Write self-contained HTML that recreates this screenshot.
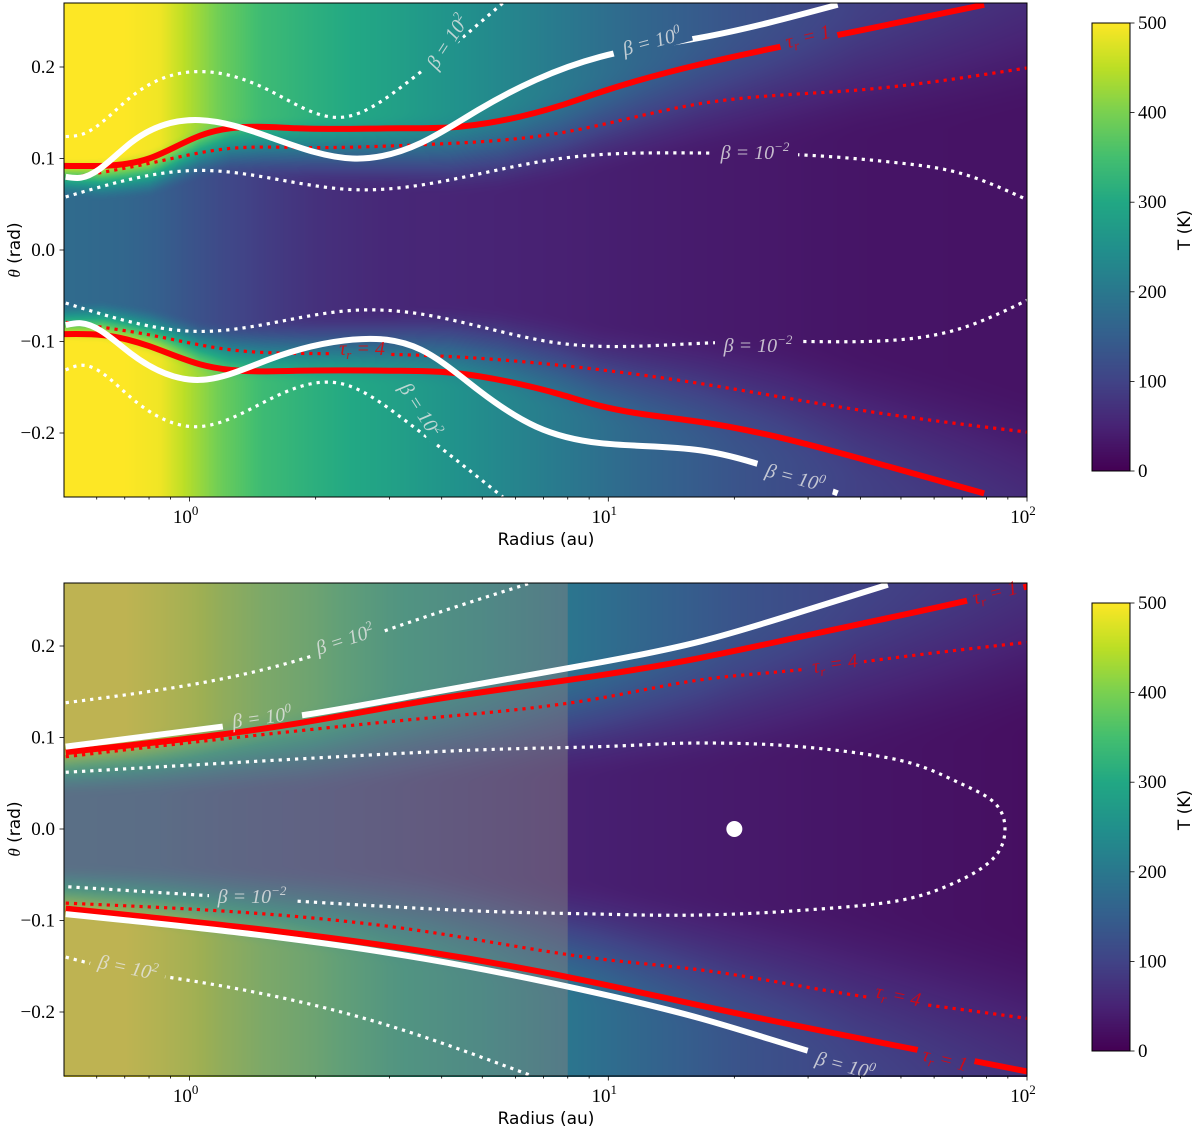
<!DOCTYPE html>
<html><head><meta charset="utf-8">
<style>
html,body{margin:0;padding:0;background:#fff;}
#wrap{position:relative;width:1200px;height:1135px;overflow:hidden;}
canvas{position:absolute;}
svg{position:absolute;left:0;top:0;}
.tk{font-family:"Liberation Serif",serif;font-size:19px;fill:#000;}
.lab{font-family:"DejaVu Sans","Liberation Sans",sans-serif;font-size:17px;fill:#000;}
.cl{font-family:"Liberation Serif",serif;font-style:italic;font-size:20px;}
</style></head>
<body>
<div id="wrap">
<canvas id="hmTop" width="963" height="494" style="left:64px;top:3px"></canvas>
<canvas id="hmBot" width="963" height="494" style="left:64px;top:583px"></canvas>
<canvas id="cbTop" width="38" height="448" style="left:1092px;top:23px"></canvas>
<canvas id="cbBot" width="38" height="448" style="left:1092px;top:603px"></canvas>
<svg id="svg" width="1200" height="1135"></svg>
</div>
<script>
// ---------- data ----------
const rGridT=[0.5,0.7,0.85,1.0,1.2,1.5,2,3,5,8,12,20,40,100];
const tSurfTop=[500,500,490,440,385,340,315,285,240,200,165,130,95,70];
const tMidTop=[175,165,150,130,110,90,70,55,50,45,40,35,28,25];
const tSurfBot=[500,500,480,460,430,400,370,310,255,195,165,130,100,75];
const tMidBot=[150,145,140,130,120,110,100,85,65,45,40,35,28,20];

// top panel contours
const tauOneUpTopR=[0.5,0.62,0.8,1.06,1.25,1.8,3.2,4.2,5.5,7.7,9.5,16.6,25.7,40,79];
const tauOneUpTopT=[0.092,0.092,0.100,0.125,0.133,0.133,0.133,0.134,0.141,0.158,0.172,0.203,0.222,0.240,0.268];
const tauOneLoTopT=[-0.092,-0.093,-0.105,-0.125,-0.131,-0.132,-0.132,-0.134,-0.142,-0.158,-0.170,-0.188,-0.205,-0.228,-0.266];
const betaOneTopR=[0.506,0.55,0.723,1.056,1.54,2.45,3.57,4.89,6.72,9.55,16.6,35.3];
const betaOneUpTopT=[0.080,0.079,0.117,0.142,0.124,0.100,0.117,0.153,0.186,0.211,0.232,0.268];
const betaOneLoTopT=[-0.082,-0.080,-0.113,-0.142,-0.120,-0.098,-0.109,-0.153,-0.193,-0.211,-0.219,-0.266];
const tauFourTopR=[0.506,0.807,1.25,1.84,3.55,7.68,16.6,39.9,100];
const tauFourUpTopT=[0.078,0.095,0.111,0.112,0.115,0.128,0.160,0.175,0.199];
const tauFourLoTopT=[-0.079,-0.093,-0.109,-0.113,-0.115,-0.126,-0.146,-0.175,-0.199];
const betaMinTopR=[0.506,1.062,2.45,3.57,7.68,16.6,28.7,49.8,69.2,100];
const betaMinUpTopT=[0.058,0.087,0.066,0.071,0.100,0.106,0.104,0.095,0.084,0.055];
const betaMinLoTopT=[-0.058,-0.089,-0.066,-0.070,-0.102,-0.102,-0.100,-0.098,-0.086,-0.055];
const betaHiTopR=[0.506,0.55,0.723,1.056,1.54,2.3,3.2,5.6];
const betaHiUpTopT=[0.124,0.126,0.167,0.195,0.175,0.145,0.178,0.270];
const betaHiLoTopT=[-0.131,-0.126,-0.161,-0.193,-0.164,-0.146,-0.183,-0.270];

// bottom panel contours
const betaOneUpBotR=[0.506,1.30,1.90,3.66,9.55,16.6,28.7,46.5];
const betaOneUpBotT=[0.090,0.114,0.125,0.148,0.182,0.205,0.237,0.267];
const tauOneUpBotR=[0.506,1.90,3.66,9.55,16.6,28.7,71,100];
const tauOneUpBotT=[0.084,0.117,0.140,0.168,0.187,0.210,0.249,0.265];
const tauFourUpBotR=[0.506,3.66,9.55,16.6,28.7,41,100];
const tauFourUpBotT=[0.079,0.121,0.143,0.163,0.174,0.183,0.204];
const betaMinBotR=[0.506,3.66,9.55,16.6,28.7,49.8,69.2,83.9,88.6,83.9,69.2,49.8,28.7,16.6,9.55,3.66,0.506];
const betaMinBotT=[0.062,0.084,0.090,0.094,0.090,0.075,0.050,0.028,0.0,-0.030,-0.056,-0.078,-0.089,-0.094,-0.093,-0.087,-0.063];
const tauFourLoBotR=[0.506,3.66,9.55,16.6,42,57,100];
const tauFourLoBotT=[-0.081,-0.112,-0.142,-0.154,-0.184,-0.192,-0.207];
const tauOneLoBotR=[0.506,3.66,9.55,16.6,55.6,100];
const tauOneLoBotT=[-0.087,-0.134,-0.169,-0.193,-0.242,-0.265];
const betaOneLoBotR=[0.506,3.66,9.55,16.6,30.8,44.6];
const betaOneLoBotT=[-0.093,-0.142,-0.180,-0.207,-0.244,-0.265];
const betaHiUpBotR=[0.506,1.99,2.90,6.43];
const betaHiUpBotT=[0.138,0.190,0.216,0.268];
const betaHiLoBotR=[0.506,0.62,0.89,2.90,6.5];
const betaHiLoBotT=[-0.140,-0.150,-0.162,-0.213,-0.269];
const planetR=[20], planetT=[0.0];
const overlayMaxR=8;

const xTickVals=[1,10,100];
const xTickLabels=["0","1","2"];
const yTickVals=[-0.2,-0.1,0.0,0.1,0.2];
const yTickLabels=["\u22120.2","\u22120.1","0.0","0.1","0.2"];
const cbTickVals=[0,100,200,300,400,500];

// ---------- scales ----------
const X0=64,X1=1027,LMIN=-0.3,LMAX=2;
function xpx(r){return X0+(Math.log10(r)-LMIN)/(LMAX-LMIN)*(X1-X0);}
const panels={top:{y0:3,y1:497,yc:250},bot:{y0:583,y1:1076,yc:829}};
const SC=915;
function ypx(p,t){return panels[p].yc-t*SC;}
const NS="http://www.w3.org/2000/svg";
const svg=document.getElementById('svg');
function mk(tag,attrs,parent){const e=document.createElementNS(NS,tag);for(const k in attrs)e.setAttribute(k,attrs[k]);(parent||svg).appendChild(e);return e;}

const VIR=[[68,1,84],[72,36,117],[65,68,135],[53,95,141],[42,120,142],[33,145,140],[34,168,132],[68,191,112],[122,209,81],[189,223,38],[253,231,37]];
function vir(v){v=Math.max(0,Math.min(1,v));const f=v*10,i=Math.min(9,Math.floor(f)),u=f-i;const a=VIR[i],b=VIR[i+1];return [a[0]+(b[0]-a[0])*u,a[1]+(b[1]-a[1])*u,a[2]+(b[2]-a[2])*u];}
function interpLog(rs,vs,r){const l=Math.log10(r);if(r<=rs[0])return vs[0];for(let i=1;i<rs.length;i++){if(r<=rs[i]){const a=Math.log10(rs[i-1]),b=Math.log10(rs[i]);const u=(l-a)/(b-a);return vs[i-1]+(vs[i]-vs[i-1])*u;}}const n=rs.length;const a=Math.log10(rs[n-2]),b=Math.log10(rs[n-1]);return vs[n-1]+(vs[n-1]-vs[n-2])*(l-b)/(b-a);}
function smooth(e0,e1,x){let t=(x-e0)/(e1-e0);t=Math.max(0,Math.min(1,t));return t*t*(3-2*t);}

function drawHeat(id,p,ts,tm,upR,upT,loR,loT,wBase,wSlope){
  const c=document.getElementById(id),ctx=c.getContext('2d');
  const W=c.width,H=c.height,img=ctx.createImageData(W,H);
  const y0=panels[p].y0;
  for(let i=0;i<W;i++){
    const r=Math.pow(10,LMIN+(i+0.5)/(X1-X0)*(LMAX-LMIN));
    const Ts=interpLog(rGridT,ts,r),Tm=interpLog(rGridT,tm,r);
    const tu=interpLog(upR,upT,r),tl=-interpLog(loR,loT,r);
    const w=wBase+wSlope*Math.max(0,Math.log10(r/0.5));
    for(let j=0;j<H;j++){
      const th=(panels[p].yc-(y0+j+0.5))/SC;
      const t1=th>=0?tu:tl;const a=Math.abs(th);
      const s=smooth(t1-w,t1+0.25*w,a);
      const T=Tm+(Ts-Tm)*s;
      const col=vir(T/500);const k=(j*W+i)*4;
      img.data[k]=col[0];img.data[k+1]=col[1];img.data[k+2]=col[2];img.data[k+3]=255;
    }
  }
  ctx.putImageData(img,0,0);
}
drawHeat('hmTop','top',tSurfTop,tMidTop,tauOneUpTopR,tauOneUpTopT,tauOneUpTopR,tauOneLoTopT,0.035,0.045);
drawHeat('hmBot','bot',tSurfBot,tMidBot,tauOneUpBotR,tauOneUpBotT,tauOneLoBotR,tauOneLoBotT,0.05,0.05);

function drawCB(id){const c=document.getElementById(id),ctx=c.getContext('2d');for(let j=0;j<c.height;j++){const col=vir(1-(j+0.5)/c.height);ctx.fillStyle=`rgb(${col[0]|0},${col[1]|0},${col[2]|0})`;ctx.fillRect(0,j,c.width,1);}}
drawCB('cbTop');drawCB('cbBot');

const defs=mk('defs',{});
for(const p of ['top','bot']){const cp=mk('clipPath',{id:'clip-'+p},defs);mk('rect',{x:X0,y:panels[p].y0,width:X1-X0,height:panels[p].y1-panels[p].y0},cp);}
const masks={};
function getMask(key){if(!masks[key]){const m=mk('mask',{id:'m-'+key,maskUnits:'userSpaceOnUse',x:0,y:0,width:1200,height:1135},defs);mk('rect',{x:0,y:0,width:1200,height:1135,fill:'#fff'},m);masks[key]=m;}return masks[key];}

const ov=mk('rect',{x:X0,y:panels.bot.y0,width:xpx(overlayMaxR)-X0,height:panels.bot.y1-panels.bot.y0,fill:'rgba(128,128,128,0.5)'});



function catmull(pts){let d=`M${pts[0][0]},${pts[0][1]}`;for(let i=0;i<pts.length-1;i++){const p0=pts[Math.max(0,i-1)],p1=pts[i],p2=pts[i+1],p3=pts[Math.min(pts.length-1,i+2)];const c1=[p1[0]+(p2[0]-p0[0])/6,p1[1]+(p2[1]-p0[1])/6],c2=[p2[0]-(p3[0]-p1[0])/6,p2[1]-(p3[1]-p1[1])/6];d+=`C${c1[0]},${c1[1]} ${c2[0]},${c2[1]} ${p2[0]},${p2[1]}`;}return d;}
function spline(pts){
  const n=pts.length;if(n<3)return catmull(pts);
  const x=pts.map(p=>p[0]),y=pts.map(p=>p[1]);const h=[];for(let i=0;i<n-1;i++)h.push(x[i+1]-x[i]);
  const a=new Array(n).fill(0),b=new Array(n).fill(1),c=new Array(n).fill(0),d=new Array(n).fill(0);
  for(let i=1;i<n-1;i++){a[i]=h[i-1];b[i]=2*(h[i-1]+h[i]);c[i]=h[i];d[i]=6*((y[i+1]-y[i])/h[i]-(y[i]-y[i-1])/h[i-1]);}
  for(let i=1;i<n;i++){const m=a[i]/b[i-1];b[i]-=m*c[i-1];d[i]-=m*d[i-1];}
  const M=new Array(n).fill(0);M[n-1]=d[n-1]/b[n-1];for(let i=n-2;i>=0;i--)M[i]=(d[i]-c[i]*M[i+1])/b[i];
  const m=[];for(let i=0;i<n-1;i++)m.push((y[i+1]-y[i])/h[i]-h[i]*(2*M[i]+M[i+1])/6);
  m.push((y[n-1]-y[n-2])/h[n-2]+h[n-2]*(M[n-2]+2*M[n-1])/6);
  let s=`M${x[0]},${y[0]}`;
  for(let i=0;i<n-1;i++){const q=h[i]/3;s+=`C${x[i]+q},${y[i]+m[i]*q} ${x[i+1]-q},${y[i+1]-m[i+1]*q} ${x[i+1]},${y[i+1]}`;}
  return s;
}
function curve(p,rs,ts,color,style,name,loop){
  const pts=rs.map((r,i)=>[xpx(r),ypx(p,ts[i])]);
  getMask(name);
  const a={d:loop?catmull(pts):spline(pts),fill:'none',stroke:color,'clip-path':`url(#clip-${p})`,mask:`url(#m-${name})`};
  if(style==='thick'){a['stroke-width']=6;}else{a['stroke-width']=3.2;a['stroke-dasharray']='3.2 5';}
  const e=mk('path',a);
  
  
}
const W='#ffffff',R='#ff0000';
curve('top',betaHiTopR,betaHiUpTopT,W,'dot','beta-1e2-upper-top');
curve('top',betaHiTopR,betaHiLoTopT,W,'dot','beta-1e2-lower-top');
curve('top',betaMinTopR,betaMinUpTopT,W,'dot','beta-1e-2-upper-top');
curve('top',betaMinTopR,betaMinLoTopT,W,'dot','beta-1e-2-lower-top');
curve('top',tauFourTopR,tauFourUpTopT,R,'dot','tau-4-upper-top');
curve('top',tauFourTopR,tauFourLoTopT,R,'dot','tau-4-lower-top');
curve('top',tauOneUpTopR,tauOneUpTopT,R,'thick','tau-1-upper-top');
curve('top',tauOneUpTopR,tauOneLoTopT,R,'thick','tau-1-lower-top');
curve('top',betaOneTopR,betaOneUpTopT,W,'thick','beta-1-upper-top');
curve('top',betaOneTopR,betaOneLoTopT,W,'thick','beta-1-lower-top');
curve('bot',betaHiUpBotR,betaHiUpBotT,W,'dot','beta-1e2-upper-bottom');
curve('bot',betaHiLoBotR,betaHiLoBotT,W,'dot','beta-1e2-lower-bottom');
curve('bot',betaMinBotR,betaMinBotT,W,'dot','beta-1e-2-loop-bottom',true);
curve('bot',tauFourUpBotR,tauFourUpBotT,R,'dot','tau-4-upper-bottom');
curve('bot',tauFourLoBotR,tauFourLoBotT,R,'dot','tau-4-lower-bottom');
curve('bot',tauOneUpBotR,tauOneUpBotT,R,'thick','tau-1-upper-bottom');
curve('bot',tauOneLoBotR,tauOneLoBotT,R,'thick','tau-1-lower-bottom');
curve('bot',betaOneUpBotR,betaOneUpBotT,W,'thick','beta-1-upper-bottom');
curve('bot',betaOneLoBotR,betaOneLoBotT,W,'thick','beta-1-lower-bottom');
const pl=mk('circle',{cx:xpx(planetR[0]),cy:ypx('bot',planetT[0]),r:8,fill:'#fff'});



function clabel(x,y,rot,color,base,exp,name,sub,gw,curveName){
  mk('rect',{x:x-gw/2,y:y-9,width:gw,height:18,fill:'#000',transform:`rotate(${rot} ${x} ${y})`},getMask(curveName));
  const t=mk('text',{x:x,y:y+6,transform:`rotate(${rot} ${x} ${y})`,'text-anchor':'middle',class:'cl',fill:color,'fill-opacity':0.8});
  
  
  t.textContent=base;
  if(sub){const s=mk('tspan',{'font-size':13,dy:4},t);s.textContent=sub;const s2=mk('tspan',{dy:-4},t);s2.textContent=' = '+exp;}
  else{const s=mk('tspan',{'font-size':13,dy:-8},t);s.textContent=exp;}
}
const LB='#e6e6e6';
clabel(448,42,-57,LB,'\u03b2 = 10','2','label-beta-1e2-top-upper',null,76,'beta-1e2-upper-top');
clabel(420,410,57,LB,'\u03b2 = 10','2','label-beta-1e2-top-lower',null,76,'beta-1e2-lower-top');
clabel(652,42,-15,LB,'\u03b2 = 10','0','label-beta-1-top-upper',null,80,'beta-1-upper-top');
clabel(795,478,15,LB,'\u03b2 = 10','0','label-beta-1-top-lower',null,80,'beta-1-lower-top');
clabel(755,153,0,LB,'\u03b2 = 10','\u22122','label-beta-1e-2-top-upper',null,86,'beta-1e-2-upper-top');
clabel(758,346,0,LB,'\u03b2 = 10','\u22122','label-beta-1e-2-top-lower',null,86,'beta-1e-2-lower-top');
clabel(808,37,-14,'#e00','\u03c4','1','label-tau-1-top','r',58,'tau-1-upper-top');
clabel(362,349,0,'#e00','\u03c4','4','label-tau-4-top','r',58,'tau-4-lower-top');
clabel(345,640,-18,LB,'\u03b2 = 10','2','label-beta-1e2-bottom-upper',null,76,'beta-1e2-upper-bottom');
clabel(128,968,12,LB,'\u03b2 = 10','2','label-beta-1e2-bottom-lower',null,76,'beta-1e2-lower-bottom');
clabel(262,718,-8,LB,'\u03b2 = 10','0','label-beta-1-bottom-upper',null,80,'beta-1-upper-bottom');
clabel(845,1066,15,LB,'\u03b2 = 10','0','label-beta-1-bottom-lower',null,80,'beta-1-lower-bottom');
clabel(252,897,0,LB,'\u03b2 = 10','\u22122','label-beta-1e-2-bottom',null,86,'beta-1e-2-loop-bottom');
clabel(835,664,-8,'#e00','\u03c4','4','label-tau-4-bottom-upper','r',58,'tau-4-upper-bottom');
clabel(898,996,12,'#e00','\u03c4','4','label-tau-4-bottom-lower','r',58,'tau-4-lower-bottom');
clabel(995,593,-14,'#e00','\u03c4','1','label-tau-1-bottom-upper','r',58,'tau-1-upper-bottom');
clabel(945,1060,14,'#e00','\u03c4','1','label-tau-1-bottom-lower','r',58,'tau-1-lower-bottom');

for(const p of ['top','bot']){
  const P=panels[p];
  const fr=mk('rect',{x:X0,y:P.y0,width:X1-X0,height:P.y1-P.y0,fill:'none',stroke:'#000','stroke-width':1});
  
  
  for(let d=-1;d<=1;d++)for(let k=2;k<=9;k++){const r=k*Math.pow(10,d);const x=xpx(r);if(x<X0||x>X1)continue;mk('line',{x1:x,x2:x,y1:P.y1,y2:P.y1+2.5,stroke:'#000','stroke-width':0.8});}
  xTickVals.forEach((v,i)=>{const x=xpx(v);mk('line',{x1:x,x2:x,y1:P.y1,y2:P.y1+4.5,stroke:'#000','stroke-width':0.8});
    const t=mk('text',{x:x-4,y:P.y1+26,'text-anchor':'middle',class:'tk'});
    
    
    t.textContent='10';const s=mk('tspan',{'font-size':13,dy:-8},t);s.textContent=xTickLabels[i];});
  yTickVals.forEach((v,i)=>{const y=ypx(p,v);mk('line',{x1:X0-4.5,x2:X0,y1:y,y2:y,stroke:'#000','stroke-width':0.8});
    const t=mk('text',{x:X0-9,y:y+6,'text-anchor':'end',class:'tk'});
    
    
    t.textContent=yTickLabels[i];});
  const xl=mk('text',{x:546,y:P.y1+48,'text-anchor':'middle',class:'lab'});
  
  
  xl.textContent='Radius (au)';
  const yl=mk('text',{x:20,y:P.yc,'text-anchor':'middle',class:'lab',transform:`rotate(-90 20 ${P.yc})`});
  
  
  yl.innerHTML='<tspan font-family="Liberation Serif" font-style="italic">\u03b8</tspan> (rad)';
  const cy0=p==='top'?23:603,ch=448;
  const cf=mk('rect',{x:1092,y:cy0,width:38,height:ch,fill:'none',stroke:'#000','stroke-width':1});
  
  
  cbTickVals.forEach(v=>{const y=cy0+ch-v/500*ch;mk('line',{x1:1130,x2:1134.5,y1:y,y2:y,stroke:'#000','stroke-width':0.8});
    const t=mk('text',{x:1138,y:y+6,class:'tk'});
    
    
    t.textContent=String(v);});
  const cl=mk('text',{x:1190,y:cy0+207,'text-anchor':'middle',class:'lab',transform:`rotate(-90 1190 ${cy0+207})`});
  
  
  cl.textContent='T (K)';
}
</script>
</body></html>
